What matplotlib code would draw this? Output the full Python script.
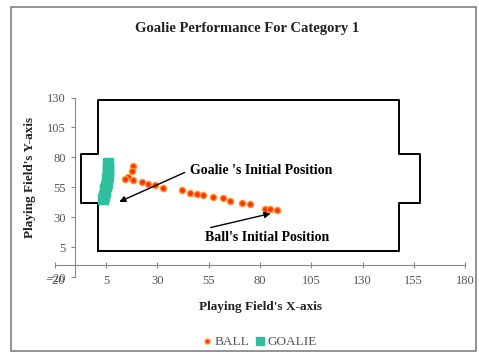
import matplotlib.pyplot as plt
from matplotlib.patches import Rectangle

# field outline (field + goal boxes)
field_x = [1, 1, -7.5, -7.5, 1, 1, 148, 148, 158, 158, 148, 148, 1]
field_y = [2, 42, 42, 83, 83, 128, 128, 83, 83, 42, 42, 2, 2]

ball_x = [18.2, 17.4, 15.4, 14.1, 18.2, 22.3, 25.5, 28.8, 32.8, 41.8, 45.9, 49.1,
          52.3, 57.2, 62.1, 65.4, 71.1, 75.1, 82.4, 84.9, 88.1]
ball_y = [72.5, 69.0, 63.6, 61.7, 60.8, 59.4, 58.0, 56.7, 54.7, 52.5, 50.3, 49.2,
          48.3, 47.2, 46.4, 43.8, 42.0, 40.8, 37.2, 37.2, 36.4]

goalie_x = [6.0, 6.0, 6.0, 6.0, 5.8, 5.5, 5.2, 5.0, 4.6, 4.2, 4.0, 3.6]
goalie_y = [75.0, 72.3, 69.6, 66.9, 64.2, 61.5, 58.8, 56.1, 53.4, 50.7, 48.0, 45.5]

xticks = [-20, 5, 30, 55, 80, 105, 130, 155, 180]
yticks = [-20, 5, 30, 55, 80, 105, 130]

serif = ['Liberation Serif', 'DejaVu Serif']
plt.rcParams['font.family'] = serif

fig = plt.figure(figsize=(4.79, 3.55), dpi=100)
fig.patches.append(Rectangle((0.023, 0.01), 0.97, 0.97, transform=fig.transFigure,
                             fill=False, edgecolor='#808080', linewidth=1.2))

ax = fig.add_axes([0.1148, 0.2197, 0.856, 0.5056])
ax.plot(field_x, field_y, color='black', linewidth=1.4, zorder=1)
ax.plot(ball_x, ball_y, linestyle='none', marker='o', markersize=4.5,
        markerfacecolor='#FF3300', markeredgecolor='#FF9A40', markeredgewidth=1,
        label='BALL', zorder=3)
ax.plot(goalie_x, goalie_y, linestyle='none', marker='s', markersize=7,
        markerfacecolor='#2FBF9F', markeredgecolor='#2FBF9F',
        label='GOALIE', zorder=3)

ax.set_xlim(-20, 180)
ax.set_ylim(-20, 130)
ax.set_xticks(xticks)
ax.set_yticks(yticks)

ax.spines['top'].set_visible(False)
ax.spines['right'].set_visible(False)
ax.spines['left'].set_position(('data', -10))
ax.spines['bottom'].set_position(('data', -10))
ax.spines['left'].set_color('#888888')
ax.spines['bottom'].set_color('#888888')
ax.tick_params(axis='x', direction='inout', length=4, color='#888888', pad=5,
               labelsize=9, labelcolor='#555555')
ax.tick_params(axis='y', direction='out', length=3, color='#888888', pad=4,
               labelsize=9, labelcolor='#555555')

# annotations: arrows and texts placed separately
arrow = dict(arrowstyle='-|>', color='black', lw=1, mutation_scale=9)
ax.annotate('', xy=(10.1, 41.9), xytext=(44.5, 68.3), arrowprops=arrow)
ax.text(45.9, 68.6, "Goalie 's Initial Position", fontsize=10, fontweight='bold',
        va='center', ha='left')
ax.annotate('', xy=(86.5, 33.6), xytext=(54.6, 20.8), arrowprops=arrow)
ax.text(53.2, 13.3, "Ball's Initial Position", fontsize=10, fontweight='bold',
        va='center', ha='left')

fig.text(0.515, 0.921, 'Goalie Performance For Category 1', ha='center', va='center',
         fontsize=10.5, fontweight='bold', color='#222222')
fig.text(0.543, 0.136, "Playing Field's X-axis", ha='center', va='center',
         fontsize=9.5, fontweight='bold', color='#222222')
fig.text(0.063, 0.50, "Playing Field's Y-axis", ha='center', va='center', rotation=90,
         fontsize=9.5, fontweight='bold', color='#222222')

leg = fig.legend(loc='center', bbox_to_anchor=(0.54, 0.036), ncol=2, frameon=False,
                 prop={'size': 9.5}, handletextpad=0.1, columnspacing=0.3,
                 handlelength=1, markerscale=0.8)
for t in leg.get_texts():
    t.set_color('#555555')

fig.savefig('out.png', dpi=100)
